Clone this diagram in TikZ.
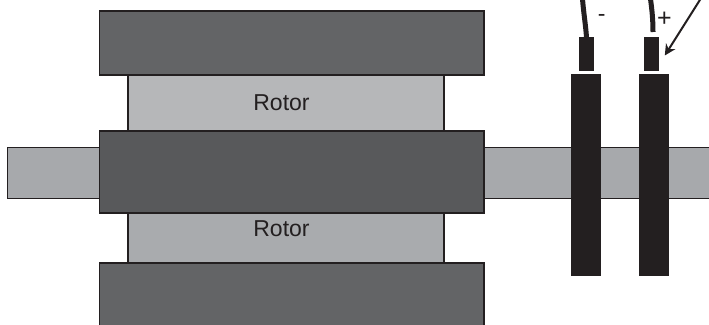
\documentclass[tikz,border=0pt]{standalone}
\usepackage{fontspec}
\setmainfont{Liberation Sans}
\usetikzlibrary{arrows.meta}
\definecolor{ink}{HTML}{231F20}
\definecolor{blockA}{HTML}{636466}
\definecolor{blockB}{HTML}{58595B}
\definecolor{rotorA}{HTML}{B6B7B9}
\definecolor{rotorB}{HTML}{A9ABAE}
\definecolor{shaftc}{HTML}{A7A9AC}
\tikzset{
  part/.style={draw=ink,line width=1.6pt,anchor=north west,inner sep=0pt,outer sep=0pt},
  brushbar/.style={fill=ink,draw=none,anchor=north west,inner sep=0pt,outer sep=0pt},
  lbl/.style={font=\fontsize{23}{26}\selectfont,text=ink,inner sep=0pt},
  wire/.style={draw=ink,line width=5pt},
  pointer/.style={draw=ink,line width=2pt,-{Stealth[length=11pt,width=11pt]}}
}
\newcommand{\boxat}[7]{\node[#1,fill=#2,minimum width=#5pt-#3pt,minimum height=#6pt-#4pt] (#7) at (#3,#4) {};}
\begin{document}
\begin{tikzpicture}[x=1pt,y=-1pt]
\useasboundingbox (0,0) rectangle (709,324);
\path[fill=white] (0,0) rectangle (709,324);
% shaft
\boxat{part}{shaftc}{7.5}{147.5}{120}{198.5}{shaftL}
\fill[shaftc] (484,147.5) rectangle (709,198.5);
\draw[ink,line width=1.6pt] (484,147.5) coordinate (sra) -- (709,147.5);
\draw[ink,line width=1.6pt] (484,198.5) -- (709,198.5);
% rotors
\boxat{part}{rotorA}{128}{75}{444}{131}{rotorU}
\boxat{part}{rotorB}{128}{213}{444}{263}{rotorL}
% blocks
\boxat{part}{blockA}{99.5}{11}{484}{75}{blockT}
\boxat{part}{blockB}{99.5}{131}{484}{213}{blockM}
\boxat{part}{blockA}{99.5}{263}{484}{330}{blockB}
% brushes
\node[brushbar,fill=ink,minimum width=30pt,minimum height=202pt] (brushN) at (570.7,74) {};
\node[brushbar,fill=ink,minimum width=30pt,minimum height=202pt] (brushP) at (638.7,74) {};
\node[brushbar,minimum width=15.4pt,minimum height=34pt] (termN) at (578.7,37) {};
\node[brushbar,minimum width=15.4pt,minimum height=34pt] (termP) at (644,37) {};
% wires
\coordinate (wireNs) at (582.5,-1);
\coordinate (wireNe) at (586.5,37);
\coordinate (wirePs) at (650.5,-1);
\coordinate (wirePe) at (653,32);
\draw[wire] (wireNs) .. controls (583.5,12) and (585.5,24) .. (wireNe);
\draw[wire] (wirePs) .. controls (652,10) and (653,20) .. (wirePe);
% arrow
\coordinate (arrS) at (700.5,-1);
\coordinate (arrE) at (664.8,55.5);
\draw[pointer] (arrS) -- (arrE);
% labels
\node[lbl] (rotorUt) at (281.5,102.8) {Rotor};
\node[lbl] (rotorLt) at (281.5,228.8) {Rotor};
\node[lbl] (minus) at (601.7,18) {-};
\node[lbl,font=\fontsize{25}{28}\selectfont] (plus) at (664.5,19) {+};
\end{tikzpicture}
\end{document}
